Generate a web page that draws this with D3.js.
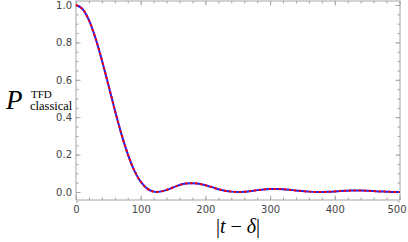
<!DOCTYPE html>
<html>
<head>
<meta charset="utf-8">
<script src="https://cdn.jsdelivr.net/npm/d3@7"></script>
<style>
  html, body { margin: 0; padding: 0; background: #fff; }
  svg { display: block; }
  .tick text { font-family: "DejaVu Sans", sans-serif; font-size: 10px; fill: #444; }
</style>
</head>
<body>
<svg id="chart" width="408" height="242"></svg>
<script>
"use strict";

// values, every 10 units of |t - delta|
const tValues = [0, 10, 20, 30, 40, 50, 60, 70, 80, 90, 100, 110, 120, 130, 140, 150, 160, 170, 180, 190,
  200, 210, 220, 230, 240, 250, 260, 270, 280, 290, 300, 310, 320, 330, 340, 350, 360, 370, 380, 390,
  400, 410, 420, 430, 440, 450, 460, 470, 480, 490, 500];
const pValues = [1.000, 0.979, 0.919, 0.824, 0.705, 0.573, 0.438, 0.312, 0.203, 0.116, 0.055, 0.018, 0.002, 0.002, 0.011, 0.024, 0.037, 0.045, 0.047, 0.044,
  0.036, 0.026, 0.015, 0.007, 0.002, 0.000, 0.001, 0.005, 0.010, 0.013, 0.016, 0.016, 0.015, 0.012, 0.008, 0.005, 0.002, 0.000, 0.000, 0.001,
  0.003, 0.006, 0.007, 0.008, 0.008, 0.007, 0.005, 0.003, 0.002, 0.000, 0.000];

const xTicks = [0, 100, 200, 300, 400, 500];
const yTicks = [0.0, 0.2, 0.4, 0.6, 0.8, 1.0];

const frameL = 76, frameR = 400, frameT = 1, frameB = 200;

const x = d3.scaleLinear().domain([0, 500]).range([76, 399.5]);
const y = d3.scaleLinear().domain([0, 1]).range([192, 5]);

const svg = d3.select("#chart");
const frameColor = "#a6a6a6";

// minor ticks
const xMinor = d3.range(0, 501, 20);
const yMinor = d3.range(-0.05, 1.0001, 0.05).map(v => +v.toFixed(2));

function drawTicks(g, axis) {
  g.call(axis);
  g.select(".domain").remove();
  g.selectAll(".tick line").attr("stroke", frameColor);
}

// bottom
svg.append("g")
  .attr("transform", `translate(0,${frameB})`)
  .call(g => drawTicks(g, d3.axisBottom(x).tickValues(xMinor).tickSize(-2.5).tickFormat("")));
svg.append("g")
  .attr("transform", `translate(0,${frameB})`)
  .call(g => drawTicks(g, d3.axisBottom(x).tickValues(xTicks).tickSize(-4.5).tickPadding(6).tickFormat(d3.format("d"))))
  .call(g => g.selectAll(".tick text").filter(d => d === 500).attr("dx", -3));
// top
svg.append("g")
  .attr("transform", `translate(0,${frameT})`)
  .call(g => drawTicks(g, d3.axisTop(x).tickValues(xMinor).tickSize(-2.5).tickFormat("")));
svg.append("g")
  .attr("transform", `translate(0,${frameT})`)
  .call(g => drawTicks(g, d3.axisTop(x).tickValues(xTicks).tickSize(-4.5).tickFormat("")));
// left
svg.append("g")
  .attr("transform", `translate(${frameL},0)`)
  .call(g => drawTicks(g, d3.axisLeft(y).tickValues(yMinor).tickSize(-2.5).tickFormat("")));
svg.append("g")
  .attr("transform", `translate(${frameL},0)`)
  .call(g => drawTicks(g, d3.axisLeft(y).tickValues(yTicks).tickSize(-4.5).tickPadding(4).tickFormat(d3.format(".1f"))));
// right
svg.append("g")
  .attr("transform", `translate(${frameR},0)`)
  .call(g => drawTicks(g, d3.axisRight(y).tickValues(yMinor).tickSize(-2.5).tickFormat("")));
svg.append("g")
  .attr("transform", `translate(${frameR},0)`)
  .call(g => drawTicks(g, d3.axisRight(y).tickValues(yTicks).tickSize(-4.5).tickFormat("")));

// frame
svg.append("rect")
  .attr("x", frameL).attr("y", frameT)
  .attr("width", frameR - frameL).attr("height", frameB - frameT)
  .attr("fill", "none")
  .attr("stroke", frameColor)
  .attr("stroke-width", 1);

const data = tValues.map((t, i) => [t, pValues[i]]);
const line = d3.line()
  .x(d => x(d[0]))
  .y(d => y(d[1]))
  .curve(d3.curveCatmullRom.alpha(0.5));

svg.append("path")
  .datum(data)
  .attr("d", line)
  .attr("fill", "none")
  .attr("stroke", "#2020ff")
  .attr("stroke-width", 2);

svg.append("path")
  .datum(data)
  .attr("d", line)
  .attr("fill", "none")
  .attr("stroke", "#ff0000")
  .attr("stroke-width", 2)
  .attr("stroke-dasharray", "2.5,2.5");

// y label
const yl = svg.append("text")
  .attr("x", 6).attr("y", 109)
  .style("font-family", "'Liberation Serif', serif");
yl.append("tspan").style("font-style", "italic").style("font-size", "27px").text("P");
yl.append("tspan").attr("x", 31).attr("y", 98).style("font-size", "11px").text("TFD");
yl.append("tspan").attr("x", 30).attr("y", 110).style("font-size", "12.5px").text("classical");

// x label
svg.append("text")
  .attr("x", 238).attr("y", 233)
  .attr("text-anchor", "middle")
  .style("font-family", "'Liberation Serif', serif")
  .style("font-size", "20px")
  .html('|<tspan font-style="italic">t</tspan> − <tspan font-style="italic">δ</tspan>|');
</script>
</body>
</html>
